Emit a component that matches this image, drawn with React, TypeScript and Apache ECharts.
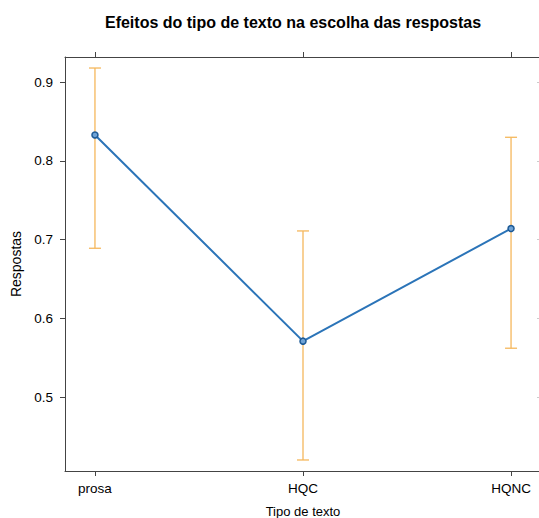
import React, { useEffect, useRef } from "react";
import * as echarts from "echarts";

const categories = ["prosa", "HQC", "HQNC"];
const means = [0.833, 0.571, 0.714];
const lowers = [0.689, 0.42, 0.562];
const uppers = [0.918, 0.711, 0.83];
const yTicks = [0.5, 0.6, 0.7, 0.8, 0.9];

const FONT = "Liberation Sans, Arial, sans-serif";
const AXIS_COLOR = "#444";

export default function App() {
  const ref = useRef<HTMLDivElement>(null);
  useEffect(() => {
    if (!ref.current) return;
    const chart = echarts.init(ref.current, null, { renderer: "svg" });
    const xPos = categories.map((_, i) => i + 1);
    const lineData = categories.map((_, i) => [i + 1, means[i]]);
    const errData = categories.map((_, i) => [i + 1, lowers[i], uppers[i]]);
    chart.setOption({
      animation: false,
      textStyle: { fontFamily: FONT },
      title: {
        text: "Efeitos do tipo de texto na escolha das respostas",
        left: 288,
        textAlign: "center",
        top: 9,
        textStyle: { fontSize: 16, fontWeight: "bold", color: "#000", fontFamily: FONT },
      },
      grid: {
        left: 65,
        top: 57,
        width: 476,
        bottom: 47,
        containLabel: false,
        outerBoundsMode: "none",
      },
      xAxis: [
        {
          type: "value",
          min: 0.856,
          max: 3.144,
          position: "bottom",
          splitLine: { show: false },
          axisLine: { show: true, lineStyle: { color: AXIS_COLOR, width: 1 } },
          axisTick: { show: true, length: 5, customValues: xPos, lineStyle: { color: AXIS_COLOR } },
          axisLabel: {
            show: true,
            customValues: xPos,
            margin: 10,
            fontSize: 13.5,
            color: "#000",
            fontFamily: FONT,
            formatter: (v: number) => categories[Math.round(v) - 1] ?? "",
          },
          name: "Tipo de texto",
          nameLocation: "middle",
          nameGap: 34,
          nameTextStyle: { fontSize: 13, color: "#000", fontFamily: FONT },
        },
        {
          type: "value",
          min: 0.856,
          max: 3.144,
          position: "top",
          splitLine: { show: false },
          axisLine: { show: true, lineStyle: { color: AXIS_COLOR, width: 1 } },
          axisTick: { show: true, length: 5, customValues: xPos, lineStyle: { color: AXIS_COLOR } },
          axisLabel: { show: false },
        },
      ],
      yAxis: [
        {
          type: "value",
          min: 0.406,
          max: 0.932,
          position: "left",
          splitLine: { show: false },
          axisLine: { show: true, lineStyle: { color: AXIS_COLOR, width: 1 } },
          axisTick: { show: true, length: 5, customValues: yTicks, lineStyle: { color: AXIS_COLOR } },
          axisLabel: {
            show: true,
            customValues: yTicks,
            margin: 12,
            fontSize: 13.5,
            color: "#000",
            fontFamily: FONT,
            formatter: (v: number) => v.toFixed(1),
          },
          name: "Respostas",
          nameLocation: "middle",
          nameGap: 41,
          nameRotate: 90,
          nameTextStyle: { fontSize: 14, color: "#000", fontFamily: FONT },
        },
        {
          type: "value",
          min: 0.406,
          max: 0.932,
          position: "right",
          splitLine: { show: false },
          axisLine: { show: true, lineStyle: { color: AXIS_COLOR, width: 1 } },
          axisTick: { show: true, inside: true, length: 4, customValues: yTicks, lineStyle: { color: "#ccc" } },
          axisLabel: { show: false },
        },
      ],
      series: [
        {
          type: "custom",
          xAxisIndex: 0,
          yAxisIndex: 0,
          z: 1,
          data: errData,
          renderItem: (params: any, api: any) => {
            const x = api.value(0);
            const lo = api.coord([x, api.value(1)]);
            const hi = api.coord([x, api.value(2)]);
            const half = 6;
            const style = { stroke: "#f5b75c", lineWidth: 1.3 };
            return {
              type: "group",
              children: [
                { type: "line", shape: { x1: lo[0], y1: lo[1], x2: hi[0], y2: hi[1] }, style },
                { type: "line", shape: { x1: hi[0] - half, y1: hi[1], x2: hi[0] + half, y2: hi[1] }, style },
                { type: "line", shape: { x1: lo[0] - half, y1: lo[1], x2: lo[0] + half, y2: lo[1] }, style },
              ],
            };
          },
        },
        {
          type: "line",
          xAxisIndex: 0,
          yAxisIndex: 0,
          z: 3,
          data: lineData,
          symbol: "circle",
          symbolSize: 6,
          lineStyle: { color: "#2b74b8", width: 2 },
          itemStyle: { color: "#6fa3d6", borderColor: "#1d5a96", borderWidth: 1.5 },
        },
      ],
    });
    return () => chart.dispose();
  }, []);
  return (
    <div
      ref={ref}
      style={{ position: "fixed", left: 0, top: 0, width: 539, height: 518, background: "#fff" }}
    />
  );
}
